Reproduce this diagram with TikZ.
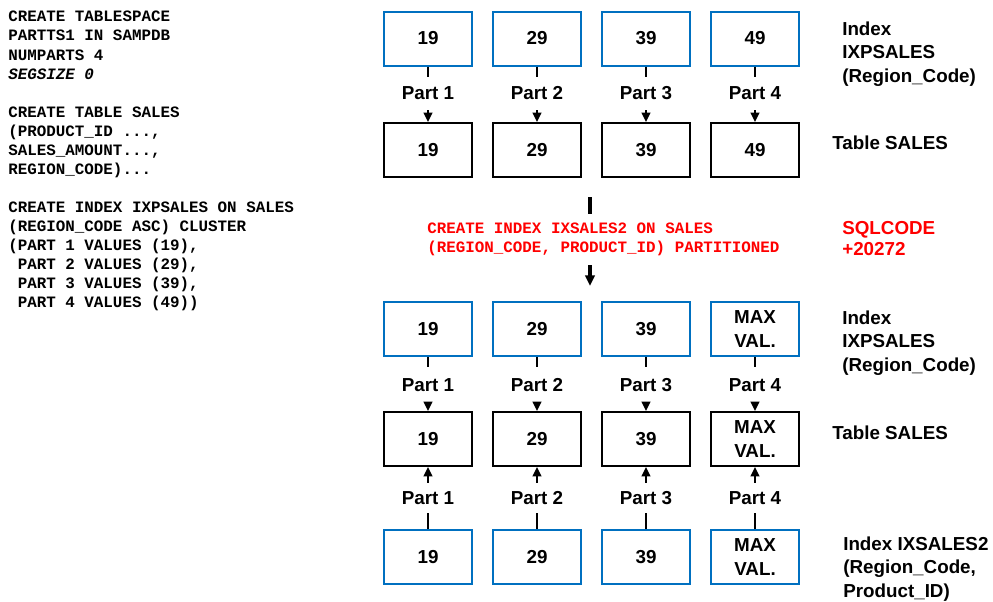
\documentclass[tikz,border=0pt]{standalone}
\usepackage{fontspec}
\setmainfont{Liberation Sans}
\setmonofont{Liberation Mono}
\usetikzlibrary{arrows.meta}
\definecolor{boxblue}{RGB}{0,112,192}
\definecolor{sqlred}{RGB}{255,0,0}
\begin{document}
\begin{tikzpicture}[x=0.75pt,y=-0.75pt,
  lbl/.style={font=\fontsize{14.1}{17.4}\selectfont\bfseries, inner sep=0pt},
  ixbox/.style={lbl, draw=boxblue, line width=1.5pt, minimum width=66pt, minimum height=40.5pt, align=center},
  tbbox/.style={ixbox, draw=black},
  partlbl/.style={lbl, minimum height=#1*0.75pt},
  conn/.style={line width=1.5pt},
  arr/.style={line width=1.5pt, -{Triangle[length=7pt,width=6.5pt]}},
  bigconn/.style={line width=2.3pt},
  bigarr/.style={line width=2.3pt, -{Triangle[length=8pt,width=7pt]}},
  code/.style={font=\fontsize{11.9}{14.3}\selectfont\ttfamily\bfseries, inner sep=0pt, align=left},
  side/.style={lbl, align=left, anchor=west}
]
\useasboundingbox (0,0) rectangle (993,601);

% left code
\node[code, anchor=north west] (code) at (8,11) {CREATE TABLESPACE\\
PARTTS1 IN SAMPDB\\
NUMPARTS 4\\
{\itshape SEGSIZE 0}\\
\mbox{}\\
CREATE TABLE SALES\\
(PRODUCT\_ID ...,\\
SALES\_AMOUNT...,\\
REGION\_CODE)...\\
\mbox{}\\
CREATE INDEX IXPSALES ON SALES\\
(REGION\_CODE ASC) CLUSTER\\
(PART 1 VALUES (19),\\
\ PART 2 VALUES (29),\\
\ PART 3 VALUES (39),\\
\ PART 4 VALUES (49))};

% rows
\foreach \i/\x/\v/\w in {1/428/19/19, 2/537/29/29, 3/646/39/39, 4/755/49/{MAX\\VAL.}} {
  \node[ixbox] (a\i) at (\x,38.5) {\v};
  \node[tbbox] (b\i) at (\x,150) {\v};
  \node[partlbl=33] (pa\i) at (\x,93.5) {Part \i};
  \draw[conn] (a\i.south) -- (pa\i.north);
  \draw[arr] (pa\i.south) -- (b\i.north);

  \node[ixbox] (c\i) at (\x,329) {\w};
  \node[tbbox] (d\i) at (\x,439) {\w};
  \node[ixbox] (e\i) at (\x,557) {\w};
  \node[partlbl=36] (pc\i) at (\x,385) {Part \i};
  \draw[conn] (c\i.south) -- (pc\i.north);
  \draw[arr] (pc\i.south) -- (d\i.north);
  \node[partlbl=30] (pe\i) at (\x,498) {Part \i};
  \draw[conn] (e\i.north) -- (pe\i.south);
  \draw[arr] (pe\i.north) -- (d\i.south);
}

% middle statement
\coordinate (m1) at (590,197);
\coordinate (m2) at (590,286);
\node[font=\fontsize{11.9}{14.25}\selectfont\ttfamily\bfseries, text=sqlred, align=left,
  anchor=west, inner xsep=0pt, inner ysep=0pt, minimum height=51*0.75pt] (stmt) at (427,239.5)
  {CREATE INDEX IXSALES2 ON SALES\\(REGION\_CODE, PRODUCT\_ID) PARTITIONED};
\draw[bigconn] (m1) -- (m1 |- stmt.north);
\draw[bigarr] (m1 |- stmt.south) -- (m2);

% side labels
\node[side] (ix1) at (842,54) {Index\\IXPSALES\\(Region\_Code)};
\node[side] (tb1) at (832,143) {Table SALES};
\node[side, text=sqlred, font=\fontsize{14.1}{16.2}\selectfont\bfseries] (sqlc) at (842,238.5) {SQLCODE\\+20272};
\node[side] (ix2) at (842,343) {Index\\IXPSALES\\(Region\_Code)};
\node[side] (tb2) at (832,433) {Table SALES};
\node[side] (ix3) at (843,569) {Index IXSALES2\\(Region\_Code,\\Product\_ID)};
\end{tikzpicture}
\end{document}
